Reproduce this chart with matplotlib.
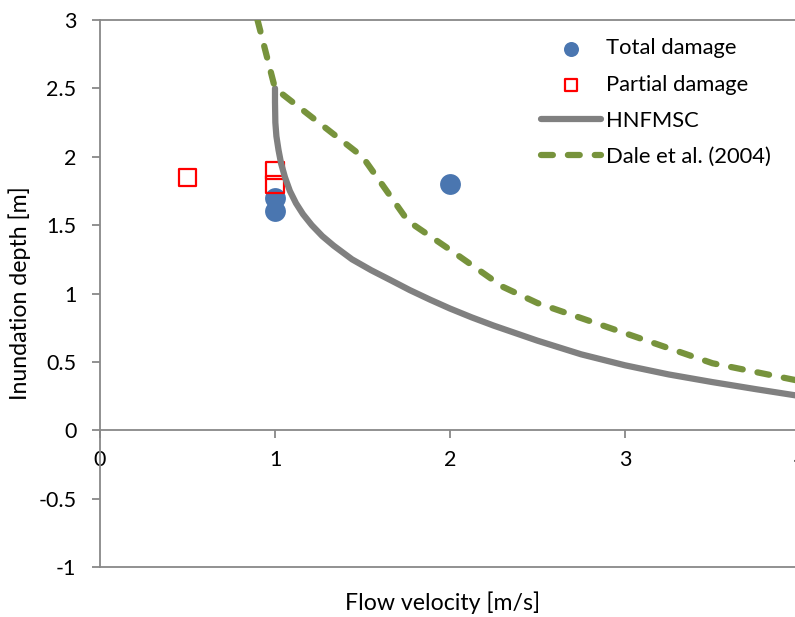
import matplotlib
matplotlib.use("Agg")
import matplotlib.pyplot as plt

plt.rcParams['font.family'] = ['Lato', 'DejaVu Sans']

# Data
total_v = [1.0, 1.0, 2.0]
total_d = [1.6, 1.7, 1.8]
partial_v = [0.5, 1.0, 1.0]
partial_d = [1.85, 1.8, 1.9]
hnf_v = [1.0, 1.0, 1.002, 1.008, 1.02, 1.035, 1.057, 1.085, 1.12, 1.16, 1.21, 1.27, 1.335,
         1.44, 1.55, 1.657, 1.77, 1.886, 2.0, 2.125, 2.25, 2.5, 2.75, 3.0, 3.25, 3.5, 3.75, 4.0]
hnf_d = [2.5, 2.4, 2.25, 2.15, 2.05, 1.95, 1.85, 1.75, 1.66, 1.58, 1.50, 1.42, 1.35,
         1.25, 1.17, 1.10, 1.025, 0.955, 0.89, 0.825, 0.765, 0.655, 0.555, 0.475, 0.408, 0.352, 0.30, 0.25]
dale_v = [0.9, 1.0, 1.5, 1.76, 2.0, 2.3, 2.5, 3.0, 3.5, 4.0]
dale_d = [3.0, 2.5, 2.0, 1.53, 1.32, 1.05, 0.93, 0.71, 0.49, 0.36]
xticks = [0, 1, 2, 3, 4]
yticks = [-1, -0.5, 0, 0.5, 1, 1.5, 2, 2.5, 3]
ytick_labels = ['-1', '-0.5', '0', '0.5', '1', '1.5', '2', '2.5', '3']

W, H = 795, 617
fig = plt.figure(figsize=(W / 100, H / 100), dpi=100)
ax = fig.add_axes([100 / W, (H - 567) / H, 700 / W, 547 / H])

spine_c = '#888888'
ax.scatter(total_v, total_d, s=225, color='#4A76B0', zorder=3, label='Total damage', linewidths=0)
ax.scatter(partial_v, partial_d, s=150, marker='s', facecolors='none', edgecolors='#FF0000',
           linewidths=1.6, zorder=4, label='Partial damage')
ax.plot(hnf_v, hnf_d, color='#808080', lw=4.5, zorder=5, label='HNFMSC',
        solid_capstyle='round', solid_joinstyle='round')
ax.plot(dale_v, dale_d, color='#77933C', lw=4.5, zorder=6, label='Dale et al. (2004)',
        dashes=(1.9, 2.4), dash_capstyle='round', dash_joinstyle='round')

ax.set_xlim(0, 4)
ax.set_ylim(-1, 3)
ax.set_xticks(xticks)
ax.set_xticklabels([str(t) for t in xticks])
ax.set_yticks(yticks)
ax.set_yticklabels(ytick_labels)

for s in ['top', 'left', 'right', 'bottom']:
    ax.spines[s].set_color(spine_c)
    ax.spines[s].set_linewidth(1.3)
ax.spines['bottom'].set_position(('data', 0))
ax.axhline(-1, color=spine_c, lw=1.3, clip_on=False, zorder=1)

ax.tick_params(axis='both', colors=spine_c, labelcolor='black', labelsize=15.5, length=6, width=1.3)
ax.tick_params(axis='y', pad=11)
ax.tick_params(axis='x', pad=8)

fig.text(20 / W, 1 - 293 / H, 'Inundation depth [m]', rotation=90, ha='center', va='center', fontsize=16.7)
fig.text(443 / W, 1 - 603 / H, 'Flow velocity [m/s]', ha='center', va='center', fontsize=16.7)

leg = ax.legend(loc='upper left', bbox_to_anchor=(541 / W, 1 - 38.5 / H), bbox_transform=fig.transFigure,
                frameon=False, fontsize=15.8, markerscale=0.72, handlelength=2.75, handletextpad=0.2,
                labelspacing=0.73, borderpad=0, borderaxespad=0)

fig.savefig('out.png', dpi=100)
